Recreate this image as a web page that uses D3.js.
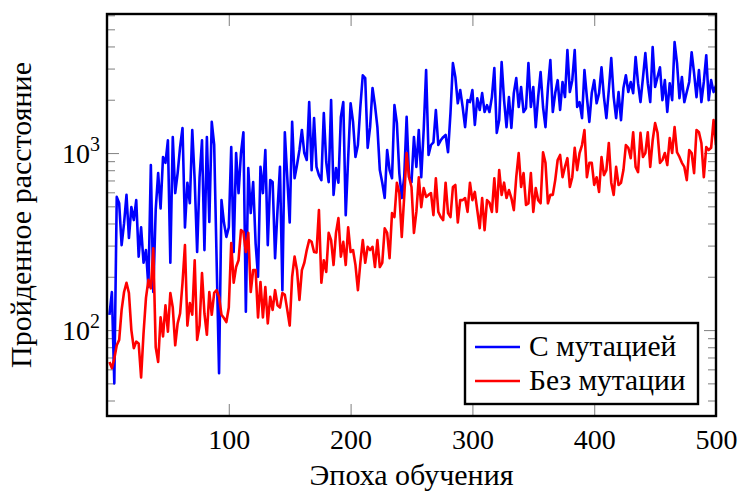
<!DOCTYPE html>
<html>
<head>
<meta charset="utf-8">
<script src="https://cdn.jsdelivr.net/npm/d3@7"></script>
<style>
body { margin: 0; background: #fff; }
</style>
</head>
<body>
<svg id="chart" width="739" height="491"></svg>
<script>
// epochs (every second one)
var epochs = d3.range(2, 501, 2);

// distance travelled, with mutation
var withMutation = [
  122,164,50,565,520,302,400,580,331,495,418,542,260,380,240,283,175,855,164,480,
  770,487,950,880,1180,240,1230,594,770,1080,1385,380,680,520,1350,703,276,730,1180,283,
  1230,
  408,1500,1110,248,57,542,405,336,380,1080,276,1000,594,1000,1310,127,823,458,685,310,
  200,835,594,1040,302,703,685,255,476,835,168,1310,730,405,1500,720,855,1040,1350,1000,
  913,
  1940,801,1575,835,750,703,1680,890,685,1990,580,823,680,1600,1940,446,935,1910,1500,950,
  1110,1820,2750,2650,1070,1400,2330,1865,1400,801,680,557,1040,801,720,1865,1475,770,557,730,
  1600,
  730,685,1230,835,1350,730,1350,2940,975,1110,1150,1750,1110,1180,1230,1265,1010,1680,3220,2690,
  1910,2270,1820,1400,1990,1940,2270,1440,2040,1750,2180,1705,1865,1705,2070,3020,1300,1535,3260,1990,
  1400,
  2070,1385,2180,2650,1820,2360,1705,1790,3220,1820,2360,1400,2070,2870,1820,1400,2330,3350,1705,2180,
  2580,1750,2520,2070,3820,2210,2580,3820,1820,1940,1575,2940,2070,1500,2180,2580,1910,2180,3050,2070,
  1575,2270,3440,2070,1575,2210,1535,2330,2750,2210,2520,2180,3490,2480,1940,2650,3670,2480,1940,3970,
  2360,2690,3050,1990,2580,1705,2480,1990,4230,3220,2040,2690,1940,2210,2520,3710,2830,2070,2940,1940,
  2520,3570,1990,2580,2210,2400
];

// distance travelled, without mutation
var withoutMutation = [
  66,61,69,82,88,130,164,185,162,100,79,86,84,54,96,152,192,172,290,80,
  66,118,92,138,98,162,134,82,109,124,185,302,106,142,122,248,88,106,210,124,
  94,
  164,122,162,168,154,122,117,111,134,310,185,227,248,367,358,276,354,164,218,218,
  118,187,118,175,109,154,130,168,138,134,162,158,130,106,200,260,218,148,218,240,
  283,
  322,315,276,274,476,185,248,213,354,322,233,354,429,260,315,233,380,276,283,233,
  168,240,322,240,295,283,295,227,322,227,240,376,354,255,458,435,680,594,336,565,
  1000,
  730,643,354,465,730,495,634,565,580,594,446,720,465,435,418,680,458,435,643,660,
  405,542,542,557,465,680,542,603,476,376,557,367,542,525,465,720,465,801,580,680,
  557,618,
  557,476,730,1000,643,770,509,520,770,465,634,542,520,1010,880,520,580,580,703,913,
  975,730,835,935,643,730,1070,801,1000,1110,1350,730,880,880,660,730,603,950,750,801,
  1140,680,580,835,660,680,801,1110,1070,935,1310,835,780,1300,950,1000,1310,835,1180,1475,
  1300,880,913,1000,855,1215,1000,1400,1010,950,880,835,703,1040,1000,770,1350,1310,1140,730,
  1080,1040,1070,1535,1110
];

var seriesNames = ["С мутацией", "Без мутации"];
var seriesColors = ["#0000ff", "#ff0000"];
var xTicks = [100, 200, 300, 400, 500];
var yMajor = [100, 1000];
var yMinor = [40, 50, 60, 70, 80, 90, 200, 300, 400, 500, 600, 700, 800, 900,
              2000, 3000, 4000, 5000, 6000];
var xTitle = "Эпоха обучения";
var yTitle = "Пройденное расстояние";

var pl = 107, pr = 716, pt = 14, pb = 416;
var serif = '"Liberation Serif"';
var svg = d3.select("#chart");

var x = d3.scaleLinear().domain([0, 500]).range([pl, pr]);
var y = d3.scaleLog().domain([32.7, 6100]).range([pb, pt]);

svg.append("clipPath").attr("id", "plotclip")
  .append("rect").attr("x", pl).attr("y", pt)
  .attr("width", pr - pl).attr("height", pb - pt);

var tickColor = "#8a8a8a";
function styleAxis(g) {
  g.attr("font-family", null);
  g.select(".domain").remove();
  g.selectAll(".tick line").attr("stroke", tickColor).attr("stroke-width", 1.1);
  g.selectAll("text").attr("font-size", 28).attr("fill", "#000")
    .style("font-family", serif);
}

// x axes
svg.append("g").attr("transform", "translate(0," + pb + ")")
  .call(d3.axisBottom(x).tickValues(xTicks).tickSize(-12).tickPadding(13).tickFormat(d3.format("d")))
  .call(styleAxis);
svg.append("g").attr("transform", "translate(0," + pt + ")")
  .call(d3.axisTop(x).tickValues(xTicks).tickSize(-12).tickFormat(""))
  .call(styleAxis);

// y axes, minor
svg.append("g").attr("transform", "translate(" + pl + ",0)")
  .call(d3.axisLeft(y).tickValues(yMinor).tickSize(-8).tickFormat(""))
  .call(styleAxis);
svg.append("g").attr("transform", "translate(" + pr + ",0)")
  .call(d3.axisRight(y).tickValues(yMinor).tickSize(-8).tickFormat(""))
  .call(styleAxis);

// y axes, major
var yl = svg.append("g").attr("transform", "translate(" + pl + ",0)")
  .call(d3.axisLeft(y).tickValues(yMajor).tickSize(-12).tickPadding(7))
  .call(styleAxis);
yl.selectAll(".tick text").each(function (d) {
  var t = d3.select(this).text("").attr("dy", "0.35em");
  t.append("tspan").text("10");
  t.append("tspan").attr("font-size", 20).attr("dy", "-0.62em")
    .text(Math.round(Math.log10(d)));
});
svg.append("g").attr("transform", "translate(" + pr + ",0)")
  .call(d3.axisRight(y).tickValues(yMajor).tickSize(-12).tickFormat(""))
  .call(styleAxis);

// lines
var line = d3.line()
  .x(function (d, i) { return x(epochs[i]); })
  .y(function (d) { return y(d); });

var plot = svg.append("g").attr("clip-path", "url(#plotclip)");
[withMutation, withoutMutation].forEach(function (s, k) {
  plot.append("path").datum(s)
    .attr("d", line)
    .attr("fill", "none")
    .attr("stroke", seriesColors[k])
    .attr("stroke-width", 2.6)
    .attr("stroke-linejoin", "round");
});

// frame
svg.append("rect").attr("x", pl).attr("y", pt)
  .attr("width", pr - pl).attr("height", pb - pt)
  .attr("fill", "none").attr("stroke", "#000").attr("stroke-width", 2.4);

// legend
var lg = svg.append("g");
lg.append("rect").attr("x", 465).attr("y", 323).attr("width", 233).attr("height", 81)
  .attr("fill", "#fff").attr("stroke", "#000").attr("stroke-width", 2.4);
seriesNames.forEach(function (name, k) {
  var yy = 347 + k * 34;
  lg.append("line").attr("x1", 475).attr("x2", 520).attr("y1", yy).attr("y2", yy)
    .attr("stroke", seriesColors[k]).attr("stroke-width", 2.6);
  lg.append("text").attr("x", 529).attr("y", yy + 9).attr("font-size", 29.5)
    .style("font-family", serif).text(name);
});

// titles
svg.append("text").attr("x", (pl + pr) / 2).attr("y", 485)
  .attr("text-anchor", "middle").attr("font-size", 30)
  .style("font-family", serif).text(xTitle);
svg.append("text").attr("transform", "translate(31," + ((pt + pb) / 2) + ") rotate(-90)")
  .attr("text-anchor", "middle").attr("font-size", 30)
  .style("font-family", serif).text(yTitle);
</script>
</body>
</html>
